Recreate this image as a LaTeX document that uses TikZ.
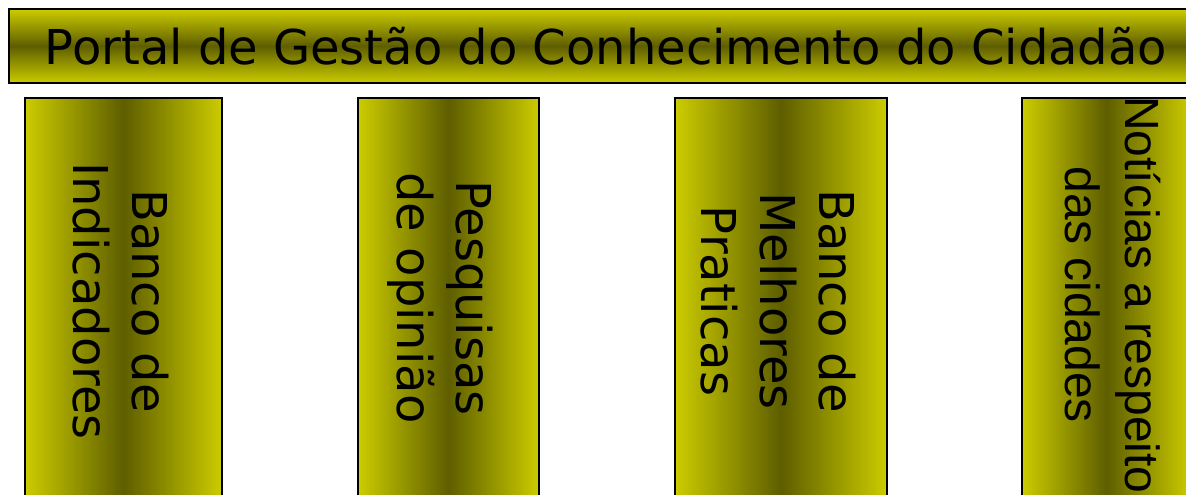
\documentclass[tikz,border=0pt]{standalone}
\usepackage{fontspec}
\setmainfont{DejaVu Sans}
\newfontfamily\arialfont{Liberation Sans}
\usetikzlibrary{positioning}
\definecolor{ouro}{RGB}{204,204,0}
\definecolor{oliva}{RGB}{94,94,0}
\tikzset{
	topo/.style = {draw=black, line width=2pt, top color=ouro, bottom color=ouro, middle color=oliva, inner sep=0pt},
	coluna/.style = {draw=black, line width=2pt, left color=ouro, right color=ouro, middle color=oliva, anchor=north west, inner sep=0pt, minimum height=406pt},
	rotulo/.style = {rotate=-90, align=center, inner sep=0pt, font=\fontsize{48}{59}\selectfont}
}

\begin{document}
\begin{tikzpicture}[x=1pt, y=-1pt]
	\clip (0,0) rectangle (1186,495);
	\node [topo, anchor=north west, minimum width=1194pt, minimum height=74pt, font=\fontsize{48}{58}\selectfont] (portal) at (8,8) {Portal de Gestão do Conhecimento do Cidadão};
	% colunas
	\node [coluna, minimum width=197pt] (indic) at (24,97) {};
	\node [coluna, minimum width=181pt] (pesq) at (357,97) {};
	\node [coluna, minimum width=212pt] (prat) at (674,97) {};
	\node [coluna, minimum width=169pt] (noti) at (1021,97) {};
	\node [xshift=-3pt, rotulo] (tindic) at (indic.center) {Banco de\\Indicadores};
	\node [xshift=-8pt, yshift=3pt, rotulo] (tpesq) at (pesq.center) {Pesquisas\\de opinião};
	\node [xshift=-3pt, rotulo] (tprat) at (prat.center) {Banco de\\Melhores\\Praticas};
	\node [xshift=6pt, yshift=6pt, rotulo, font=\arialfont\fontsize{48}{60}\selectfont] (tnoti) at (noti.center) {Notícias a respeito\\das cidades};
\end{tikzpicture}
\end{document}
